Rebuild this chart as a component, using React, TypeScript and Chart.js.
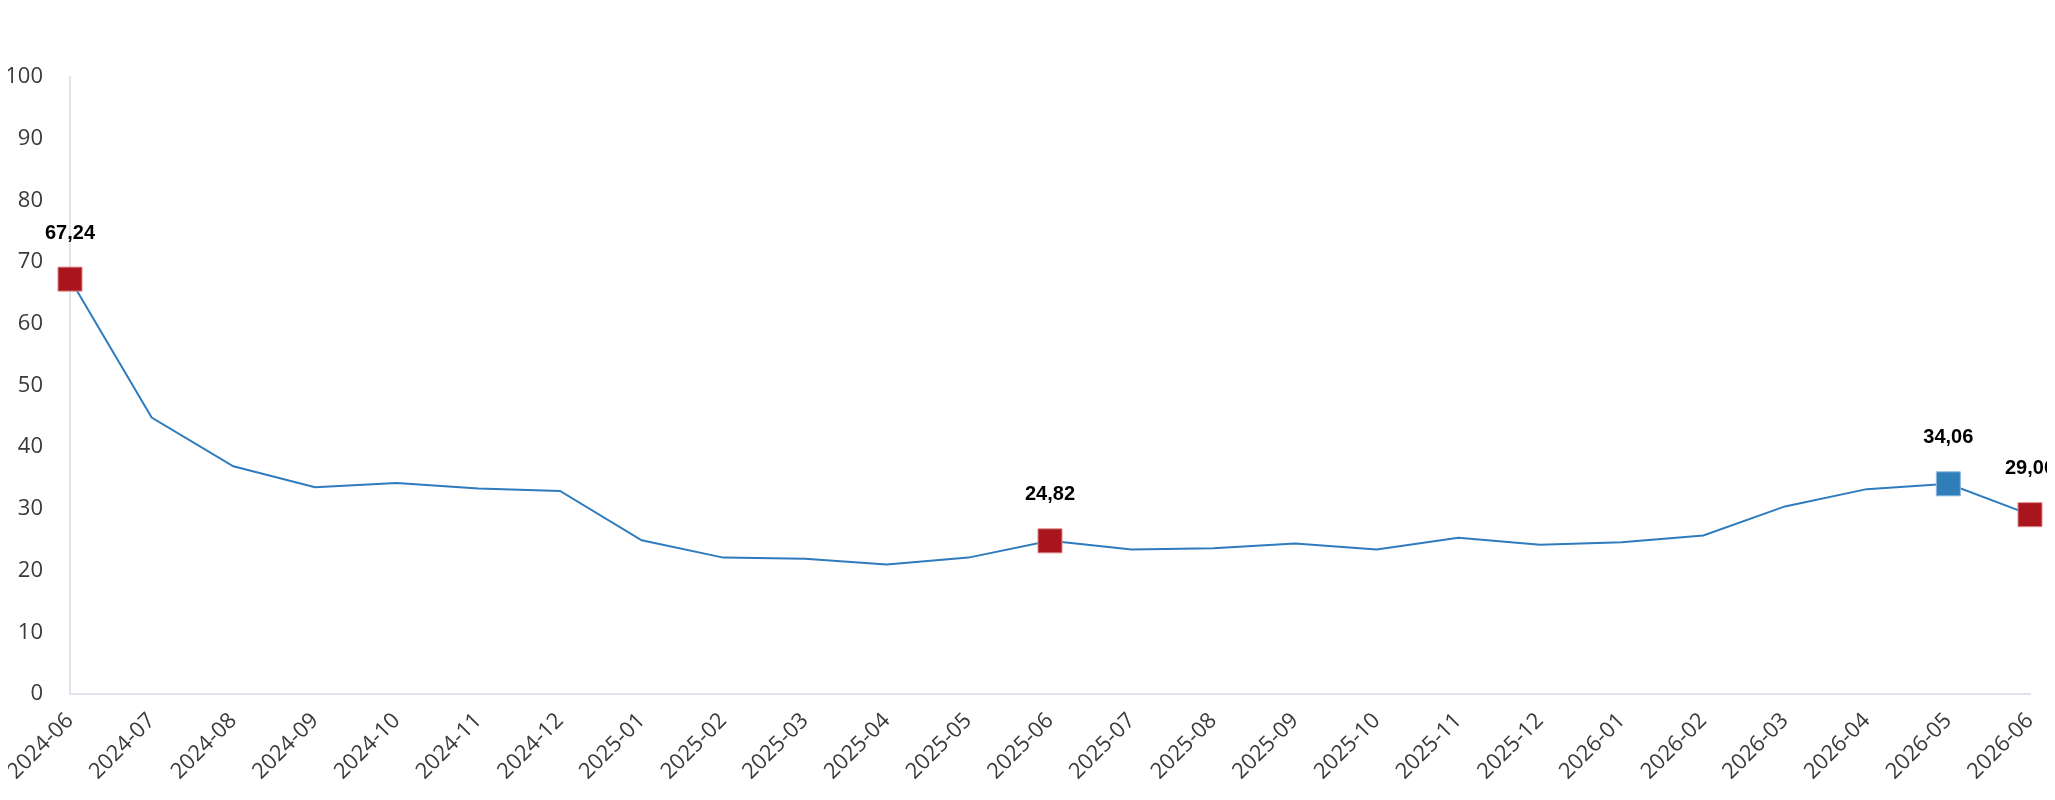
import { useEffect, useRef } from "react";
import { Chart, registerables } from "chart.js";

Chart.register(...registerables);

const months = [
  "2024-06", "2024-07", "2024-08", "2024-09", "2024-10", "2024-11", "2024-12",
  "2025-01", "2025-02", "2025-03", "2025-04", "2025-05", "2025-06", "2025-07",
  "2025-08", "2025-09", "2025-10", "2025-11", "2025-12", "2026-01", "2026-02",
  "2026-03", "2026-04", "2026-05", "2026-06",
];

const values = [
  67.24, 44.8, 36.9, 33.5, 34.2, 33.3, 32.9,
  24.9, 22.1, 21.9, 21.0, 22.1, 24.82, 23.4,
  23.6, 24.4, 23.4, 25.3, 24.2, 24.6, 25.7,
  30.4, 33.2, 34.06, 29.06,
];

// points that carry a square marker and a value label
const markedIndex = [0, 12, 23, 24];
const markedColor = ["#a8151c", "#a8151c", "#2f7db9", "#a8151c"];
const markedBorder = ["#e08a8f", "#e08a8f", "#8ebbe0", "#e08a8f"];

const yMin = 0;
const yMax = 100;
const yStep = 10;

const fmt = (v: number) => v.toFixed(2).replace(".", ",");

const valueLabels = {
  id: "valueLabels",
  afterDatasetsDraw(chart: Chart) {
    const ctx = chart.ctx;
    const meta = chart.getDatasetMeta(0);
    ctx.save();
    ctx.font = "bold 20px 'Liberation Sans', Arial, sans-serif";
    ctx.fillStyle = "#000000";
    ctx.textAlign = "center";
    ctx.textBaseline = "middle";
    markedIndex.forEach((i) => {
      const p = meta.data[i];
      ctx.fillText(fmt(values[i]), p.x, p.y - 46);
    });
    ctx.restore();
  },
};

const pick = <T,>(i: number, arr: T[], other: T) => {
  const k = markedIndex.indexOf(i);
  return k >= 0 ? arr[k] : other;
};

const App = () => {
  const canvasRef = useRef<HTMLCanvasElement>(null);

  useEffect(() => {
    const chart = new Chart(canvasRef.current!, {
      type: "line",
      data: {
        labels: months,
        datasets: [
          {
            data: values,
            borderColor: "#2e7bbd",
            borderWidth: 2,
            tension: 0,
            clip: false,
            pointStyle: "rect",
            pointRadius: (c: any) => (markedIndex.includes(c.dataIndex) ? 17 : 0),
            pointHoverRadius: (c: any) => (markedIndex.includes(c.dataIndex) ? 17 : 0),
            pointBackgroundColor: (c: any) => pick(c.dataIndex, markedColor, "#2e7bbd"),
            pointBorderColor: (c: any) => pick(c.dataIndex, markedBorder, "#2e7bbd"),
            pointBorderWidth: 1,
          },
        ],
      },
      options: {
        responsive: true,
        maintainAspectRatio: false,
        animation: false,
        layout: { padding: { top: 69, right: 25, bottom: 1, left: 0 } },
        plugins: {
          legend: { display: false },
          tooltip: { enabled: false },
        },
        scales: {
          x: {
            offset: false,
            grid: { display: false, drawTicks: false },
            border: { display: true, color: "#dfe4ea", width: 2 },
            ticks: {
              autoSkip: false,
              maxRotation: 45,
              minRotation: 45,
              padding: 14,
              color: "#3a3a3a",
              font: { family: "'Open Sans'", size: 22 },
            },
            afterFit: (s: any) => {
              s.paddingLeft = 0;
              s.paddingRight = 0;
            },
          },
          y: {
            min: yMin,
            max: yMax,
            grid: { display: false, drawTicks: false },
            border: { display: true, color: "#dfe4ea", width: 2 },
            ticks: {
              stepSize: yStep,
              padding: 27,
              color: "#3a3a3a",
              font: { family: "'Open Sans'", size: 22 },
            },
            afterFit: (s: any) => {
              s.width = 62;
            },
          },
        },
      },
      plugins: [valueLabels],
    });

    return () => {
      chart.destroy();
    };
  }, []);

  return (
    <div
      style={{
        position: "relative",
        width: "calc(100% + 8px)",
        height: 792,
        marginBottom: -8,
      }}
    >
      <canvas ref={canvasRef} />
    </div>
  );
};

export default App;
